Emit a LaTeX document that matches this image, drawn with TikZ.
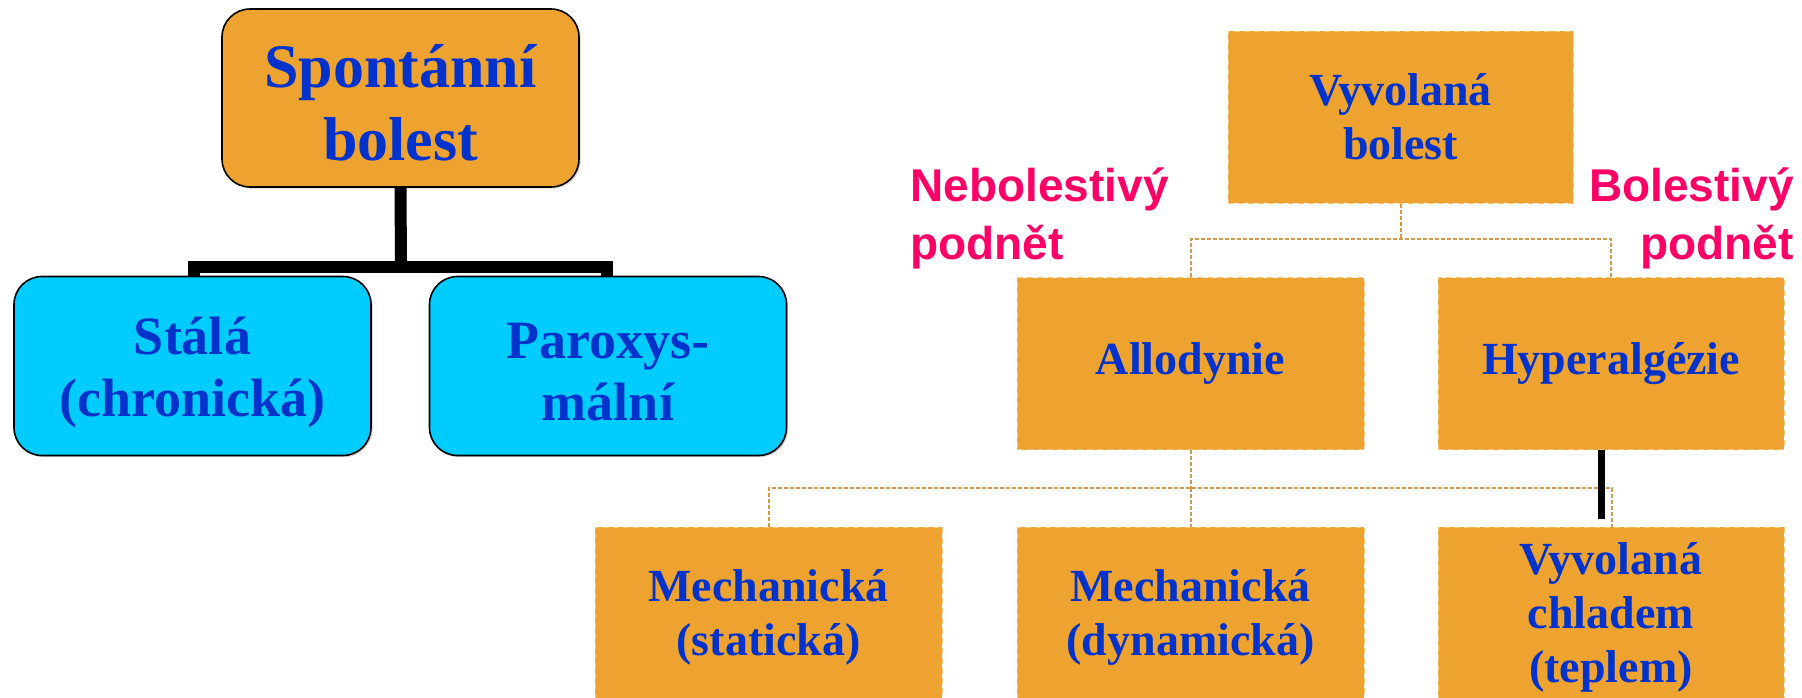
\documentclass[tikz,border=0pt]{standalone}
\usepackage{fontspec}
\setmainfont{Liberation Serif}
\newfontfamily\pinkfont{Liberation Sans}
\usetikzlibrary{shadows}
\definecolor{txtblue}{RGB}{0,51,204}
\definecolor{boxorange}{RGB}{238,163,49}
\definecolor{edgeorange}{RGB}{247,200,120}
\definecolor{boxcyan}{RGB}{0,204,255}
\definecolor{pinktxt}{RGB}{255,0,102}
\definecolor{dashbrown}{RGB}{210,155,75}
\tikzset{
  rbox/.style={draw=black, line width=0.8pt, rounded corners=14pt, inner sep=0pt,
    drop shadow={shadow xshift=0.8pt, shadow yshift=-0.8pt, opacity=0.35}},
  obox/.style={fill=boxorange, draw=edgeorange, densely dashed, line width=0.5pt, inner sep=0pt,
    align=center, text=txtblue, font=\bfseries\fontsize{23}{27}\selectfont},
  bigtxt/.style={text=txtblue, align=center, inner sep=0pt, font=\bfseries\fontsize{31}{36.5}\selectfont},
  midtxt/.style={text=txtblue, align=center, inner sep=0pt, font=\bfseries\fontsize{27}{31}\selectfont},
  pinklabel/.style={text=pinktxt, inner sep=0pt, font=\pinkfont\bfseries\fontsize{23}{29}\selectfont},
  blkline/.style={draw=black, line width=6pt},
  dline/.style={draw=dashbrown, dash pattern=on 2pt off 1pt, line width=1pt},
  hline/.style={draw=black, line width=3.5pt}
}
\begin{document}
\begin{tikzpicture}[x=0.5pt,y=-0.5pt]
\useasboundingbox (0,0) rectangle (1802,697);
\clip (0,0) rectangle (1802,697);
% left group
\node[rbox, fill=boxorange, minimum width=178.5pt, minimum height=89pt] (spont) at (400.5,98) {};
\node[bigtxt] (spontt) at ([yshift=-2.5pt]spont.center) {Spontánní\\bolest};
\node[rbox, fill=boxcyan, minimum width=178.5pt, minimum height=89.5pt] (stala) at (192.5,366) {};
\node[midtxt] (stalat) at ([yshift=-3pt]stala.center) {Stálá\\(chronická)};
\node[rbox, fill=boxcyan, minimum width=178.5pt, minimum height=89.5pt] (parox) at (608,366) {};
\node[midtxt] (paroxt) at ([yshift=-3pt]parox.center) {Paroxys-\\mální};
\coordinate (j1) at (401,267);
\draw[blkline] (spont.south) -- (j1);
\draw[blkline] ([xshift=0.75pt]stala.north) |- (j1) -| ([xshift=-0.5pt]parox.north);
% right group
\node[obox, minimum width=172.5pt, minimum height=86pt] (vyv) at (1400.5,117) {Vyvolaná\\bolest};
\node[obox, minimum width=173.5pt, minimum height=86pt] (allo) at (1190.5,363.5) {Allodynie};
\node[obox, minimum width=173pt, minimum height=86pt] (hyper) at (1611,363.5) {Hyperalgézie};
\node[obox, minimum width=173.5pt, minimum height=90pt] (mech1) at (768.5,617) {Mechanická\\(statická)};
\node[obox, minimum width=173.5pt, minimum height=90pt] (mech2) at (1190.5,617) {Mechanická\\(dynamická)};
\node[obox, minimum width=173pt, minimum height=90pt] (chlad) at (1611,617) {Vyvolaná\\chladem\\(teplem)};
\node[pinklabel, anchor=west, align=left] (nebol) at (910,218) {Nebolestivý\\podnět};
\node[pinklabel, anchor=east, align=right] (bol) at (1794,218) {Bolestivý\\podnět};
\coordinate (j2) at (1400.5,239);
\draw[dline] (vyv.south) -- (j2);
\draw[dline] (allo.north) |- (j2) -| (hyper.north);
\coordinate (j3) at (1190.5,488);
\draw[dline] (allo.south) -- (j3);
\draw[dline] (mech1.north) |- (j3) -| ([xshift=0.5pt]chlad.north);
\draw[dline] (j3) -- (mech2.north);
\draw[hline] ([xshift=-4.75pt]hyper.south) -- ++(0,69);
\end{tikzpicture}
\end{document}
